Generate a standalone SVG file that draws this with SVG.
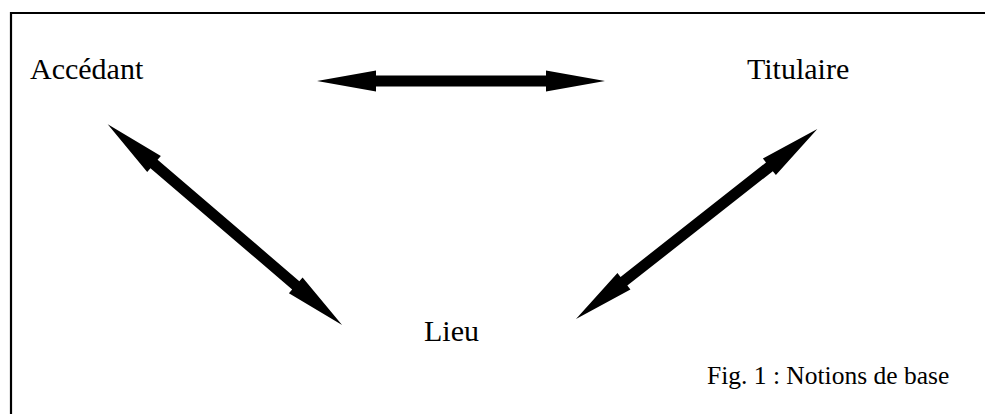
<svg xmlns="http://www.w3.org/2000/svg" width="985" height="414" viewBox="0 0 985 414">
<style>
.lbl{font-family:"Liberation Serif","Times New Roman",serif;font-size:30px;fill:#000}
.cap{font-family:"Liberation Serif","Times New Roman",serif;font-size:25.5px;fill:#000}
.arr{fill:#000}
</style>
<rect width="985" height="414" fill="#fff"/>
<path d="M11 414 V13 H985" fill="none" stroke="#000" stroke-width="2.2"/>
<g id="node-accedant"><text class="lbl" x="30" y="79">Accédant</text></g>
<g id="node-titulaire"><text class="lbl" x="747" y="79">Titulaire</text></g>
<g id="node-lieu"><text class="lbl" x="424" y="341">Lieu</text></g>
<g id="caption"><text class="cap" x="707" y="384">Fig. 1 : Notions de base</text></g>
<g id="connectors">
<polygon class="arr" transform="translate(317,81)" points="0,0 59,-10.5 59,-5.5 229,-5.5 229,-10.5 288,0 229,10.5 229,5.5 59,5.5 59,10.5"/>
<polygon class="arr" transform="translate(107.7,124.3) rotate(40.58)" points="0,0 61,-10.5 61,-5.5 247.6,-5.5 247.6,-10.5 308.6,0 247.6,10.5 247.6,5.5 61,5.5 61,10.5"/>
<polygon class="arr" transform="translate(576,319) rotate(-38.2)" points="0,0 61,-10.5 61,-5.5 246.1,-5.5 246.1,-10.5 307.1,0 246.1,10.5 246.1,5.5 61,5.5 61,10.5"/>
</g>
</svg>
